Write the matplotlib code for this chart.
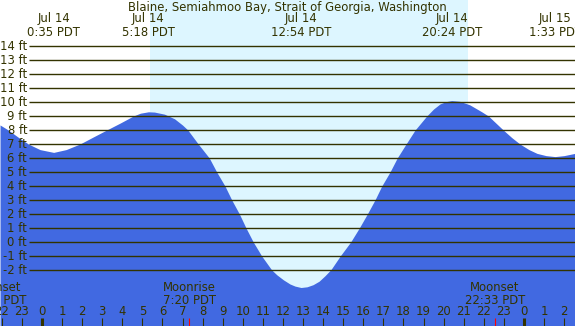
import matplotlib
matplotlib.use("Agg")
import matplotlib.pyplot as plt

# tide curve: hours from Jul 14 00:00 PDT, height in ft
tide_hours = [-2.09, -1.68, -1.20, -0.68, -0.10, 0.58, 1.20, 1.89, 2.55, 3.22,
              3.90, 4.55, 4.90, 5.30, 5.60, 6.10, 6.60, 7.00, 7.26, 7.78,
              8.33, 8.70, 9.11, 9.45, 9.83, 10.16, 10.52, 10.94, 11.44, 11.70,
              12.02, 12.35, 12.60, 12.90, 13.20, 13.50, 13.80, 14.10, 14.40, 14.85,
              15.37, 15.80, 16.20, 16.58, 16.92, 17.33, 17.69, 18.13, 18.58, 19.16,
              19.50, 19.82, 20.10, 20.40, 20.80, 21.30, 21.90, 22.23, 22.97, 23.40,
              23.80, 24.25, 24.65, 25.10, 25.55, 26.00, 26.54]
tide_ft = [8.36, 8.0, 7.5, 7.0, 6.6, 6.40, 6.6, 7.0, 7.5, 8.0,
           8.5, 9.0, 9.2, 9.3, 9.28, 9.13, 8.8, 8.35, 8.0, 7.0,
           6.0, 5.0, 4.0, 3.0, 2.0, 1.0, 0.0, -1.0, -2.0, -2.35,
           -2.7, -3.0, -3.15, -3.25, -3.2, -3.05, -2.8, -2.4, -1.95, -1.0,
           0.0, 1.0, 2.0, 3.0, 4.0, 5.0, 6.0, 7.0, 8.0, 9.0,
           9.5, 9.86, 10.02, 10.1, 10.05, 9.8, 9.3, 9.0, 8.0, 7.45,
           7.0, 6.6, 6.33, 6.17, 6.1, 6.17, 6.33]

# high / low labels along the top
event_hours = [0.583, 5.30, 12.90, 20.40, 25.55]
event_dates = ["Jul 14", "Jul 14", "Jul 14", "Jul 14", "Jul 15"]
event_times = ["0:35 PDT", "5:18 PDT", "12:54 PDT", "20:24 PDT", "1:33 PDT"]

# moon events along the bottom
moon_hours = [-2.28, 7.33, 22.55]
moon_names = ["Moonset", "Moonrise", "Moonset"]
moon_times = ["21:43 PDT", "7:20 PDT", "22:33 PDT"]

sunrise, sunset = 5.38, 21.20
grid_levels = list(range(-2, 15))
hour_ticks = list(range(-2, 27))

TITLE = "Blaine, Semiahmoo Bay, Strait of Georgia, Washington"

# pixel mapping of the original: x = 42 + 20.08*h, y = 242 - 14*ft
W, H = 575, 326
PX_H, X0 = 20.08, 42.0
PX_FT, Y0 = 14.0, 242.0
def hx(px):
    return (px - X0) / PX_H
def fy(py):
    return 1 - py / H

INK = "#333300"
NIGHT = "#b0c4de"
DAY = "#ddf6ff"
WATER = "#4169e1"
fs = 8.4

fig = plt.figure(figsize=(W / 100, H / 100), dpi=100)
ax = fig.add_axes([0, 0, 1, 1])
ax.set_xlim(hx(0), hx(W))
ax.set_ylim((Y0 - H) / PX_FT, Y0 / PX_FT)
ax.set_facecolor(NIGHT)
ax.axis("off")
ax.patch.set_visible(True)

ax.axvspan(sunrise, sunset, color=DAY, lw=0, zorder=1)
ax.fill_between(tide_hours, tide_ft, (Y0 - H) / PX_FT - 1, color=WATER, lw=0, zorder=2)

ax.hlines(grid_levels, hx(29), hx(W + 5), color=INK, lw=1.0, zorder=3)
for lv in grid_levels:
    ax.text(hx(27), lv, f"{lv} ft", ha="right", va="center", fontsize=fs,
            color=INK, zorder=4)

xt = ax.get_xaxis_transform()
fig.text(0.5, fy(11), TITLE, ha="center", va="baseline", fontsize=fs, color=INK)
# va="baseline" on two-line text anchors the last line
for h, d, t in zip(event_hours, event_dates, event_times):
    ax.text(h, fy(35.5), d + "\n" + t, transform=xt, ha="center", va="baseline",
            multialignment="center", linespacing=1.05, fontsize=fs, color=INK)

for h, n, t in zip(moon_hours, moon_names, moon_times):
    ax.text(h, fy(303.5), n + "\n" + t, transform=xt, ha="center", va="baseline",
            multialignment="center", linespacing=0.95, fontsize=fs, color=INK, zorder=5)

# hour ticks along the bottom
for h in hour_ticks:
    lw = 2.2 if h % 24 == 0 else 0.8
    ax.vlines(h, 0, fy(318), transform=xt, color=INK, lw=lw, zorder=5)
    ax.text(h, fy(315), str(h % 24), transform=xt, ha="center", va="baseline",
            fontsize=fs, color=INK, zorder=5)
ax.vlines(moon_hours, 0, fy(318), transform=xt, color="red", lw=0.8, zorder=5)

fig.savefig("out.png", dpi=100)
